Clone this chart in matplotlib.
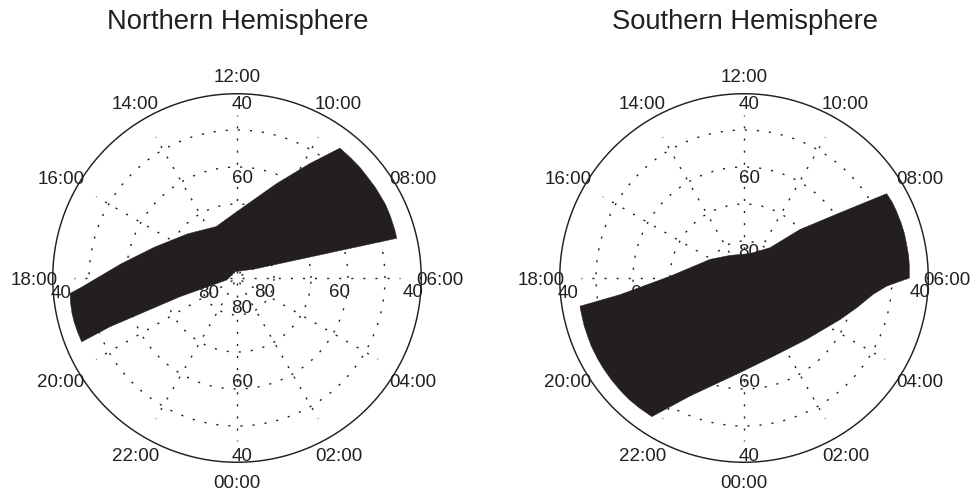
import numpy as np
import matplotlib
matplotlib.use('Agg')
import matplotlib.pyplot as plt

plt.rcParams['font.family'] = ['Liberation Sans', 'DejaVu Sans']
INK = '#231f20'

# boundary of the shaded region: magnetic local time (h) and latitude (deg)
north_hours = [18.35, 18.23, 17.53, 16.63, 15.21, 13.47, 12.05, 10.49, 9.84, 9.44,
               9.1, 8.8, 8.53, 8.2, 7.76, 7.45, 7.12, 6.93,
               7.87, 13.17, 18.73, 19.21, 19.40, 19.49,
               19.25, 19.0, 18.8, 18.55]
north_lats = [44.7, 47.8, 58.5, 66.2, 72.1, 75.0, 72.2, 62.4, 53.4, 45.2,
              45.3, 45.3, 45.4, 45.3, 45.2, 45.3, 45.4, 45.5,
              85.0, 88.2, 87.2, 73.8, 53.2, 44.6,
              44.5, 44.4, 44.4, 44.5]

south_hours = [18.65, 18.51, 17.91, 16.09, 14.13, 11.08, 9.29, 8.73, 8.28, 8.04,
               7.8, 7.61, 7.3, 7.05, 6.8, 6.50, 6.25, 6.0,
               5.78, 5.52, 5.01, 4.44, 3.04, 1.37, 23.84, 22.36, 21.76,
               21.4, 21.1, 20.85, 20.5, 20.2, 19.93, 19.6, 19.35, 19.11, 18.85]
south_lats = [45.0, 56.2, 70.0, 79.5, 82.8, 83.2, 79.2, 70.0, 58.6, 45.2,
              45.0, 45.0, 45.0, 45.0, 45.1, 45.1, 45.2, 45.3,
              51.4, 54.8, 58.5, 61.7, 66.3, 67.4, 64.4, 54.9, 45.0,
              44.9, 44.8, 44.8, 44.8, 44.8, 44.8, 44.8, 44.9, 44.9, 45.0]

hour_ticks = [0, 2, 4, 6, 8, 10, 12, 14, 16, 18, 20, 22]
hour_labels = ['%02d:00' % h for h in hour_ticks]
lat_rings = [80, 70, 60, 50]
lat_labels = [80, 60, 40]
lat_edge = 40


def theta(h):
    return np.deg2rad((np.asarray(h) - 6.0) * 15.0)


def colat(lat):
    return 90.0 - np.asarray(lat)


def draw_dial(ax, hours, lats):
    ax.set_axis_off()
    ax.set_theta_zero_location('E')
    ax.set_ylim(0, colat(lat_edge))
    dots = dict(color=INK, lw=1.0, linestyle=(0, (1.5, 7.2)), zorder=1)
    tt = np.linspace(0, 2 * np.pi, 721)
    for lat in lat_rings:
        ax.plot(tt, np.full_like(tt, colat(lat)), **dots)
    for h in hour_ticks:
        ax.plot([theta(h)] * 2, [1.4, 44.0], **dots)
    ax.plot(tt, np.full_like(tt, colat(lat_edge)), color=INK, lw=2.1, zorder=4)

    # latitude labels along the four main meridians
    offs = {12: (3.6, -2), 0: (3.6, -2), 6: (0, -10.5), 18: (0, -11)}
    for h, (ox, oy) in offs.items():
        for lat in lat_labels:
            ax.annotate(str(lat), xy=(theta(h), colat(lat) - 2.4), xytext=(ox, oy),
                        textcoords='offset points', ha='center', va='center',
                        fontsize=13.5, color=INK, zorder=2)

    for h, lab in zip(hour_ticks, hour_labels):
        ax.annotate(lab, xy=(theta(h), 54.9), xytext=(0, -2),
                    textcoords='offset points', ha='center', va='center',
                    fontsize=13.5, color=INK, annotation_clip=False, zorder=5)

    ax.fill(theta(hours), colat(lats), color=INK, lw=0.3, zorder=3)


fig = plt.figure(figsize=(9.74, 4.94), dpi=100)
ax1 = fig.add_axes([52 / 974, 31 / 494, 370 / 974, 370 / 494], projection='polar')
ax2 = fig.add_axes([559 / 974, 31 / 494, 370 / 974, 370 / 494], projection='polar')

draw_dial(ax1, north_hours, north_lats)
draw_dial(ax2, south_hours, south_lats)

fig.text(237.5 / 974, 1 - 29.3 / 494, 'Northern Hemisphere', ha='center',
         va='baseline', fontsize=19.7, color=INK)
fig.text(744.5 / 974, 1 - 29.3 / 494, 'Southern Hemisphere', ha='center',
         va='baseline', fontsize=19.7, color=INK)

fig.savefig('out.png', dpi=100)
